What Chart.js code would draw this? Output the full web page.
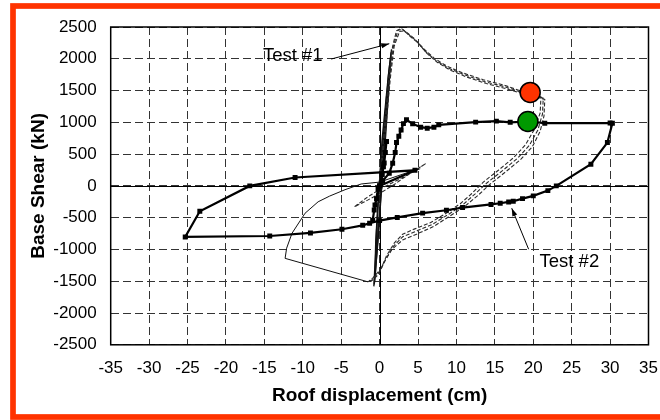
<!DOCTYPE html>
<html><head><meta charset="utf-8">
<script src="https://cdn.jsdelivr.net/npm/chart.js@4/dist/chart.umd.min.js"></script>
<style>html,body{margin:0;padding:0;background:#fff;}#wrap{width:660px;height:420px;position:relative;}</style>
</head><body><div id="wrap"><canvas id="c" width="660" height="420"></canvas></div>
<script>
// ---- axis ticks ----
const xTickValues = [-35,-30,-25,-20,-15,-10,-5,0,5,10,15,20,25,30,35];
const yTickValues = [-2500,-2000,-1500,-1000,-500,0,500,1000,1500,2000,2500];

// ---- Test #2 (thick line with square markers) ----
const test2X = [0,0.35,0.6,0.75,0.9,0.5,0,-0.4,-0.7,-0.9,-0.6,-0.2,0.4,1.26,1.7,2.03,2.2,2.5,2.8,3.1,3.5,4.3,5.35,6.2,7.07,7.7,12.5,15.2,17.0,19.3,21.5,30.0,30.3,29.65,27.5,23.0,21.9,20.0,18.6,17.4,16.8,15.7,14.5,10.8,8.7,5.6,2.3,0.0,-1.3,-2.2,-4.9,-9.0,-14.3,-25.3,-23.4,-16.9,-11.0,4.6,0];
const test2Y = [0,180,360,525,700,300,0,-200,-380,-540,-300,-50,80,200,357,525,682,780,880,980,1040,977,924,908,924,960,1003,1019,1000,1013,987,990,985,682,342,0,-74,-157,-200,-241,-252,-273,-292,-341,-383,-428,-496,-546,-588,-620,-682,-740,-788,-803,-399,0,132,245,0];

// ---- Test #1 elastic cycles (thin solid) ----
const test1ElasticX = [0,0.3,0.9,1.5,1.1,0.5,0.1,-0.3,-0.7,-0.4,0.0,0.4,0.9,1.4,1.0,0.4,0.0,-0.4,-0.6,-0.2,0.2,0.6,1.3,0.8,0.2,0];
const test1ElasticY = [0,700,1450,2100,1700,900,300,-500,-1550,-1100,-400,450,1300,2000,1500,700,100,-700,-1450,-800,-100,600,1900,1300,200,0];
const test1Elastic2X = [0,0.4,1.0,1.55,1.2,0.7,0.2,-0.2,-0.75,-0.5,-0.1,0.5,1.1,1.45,0.9,0.3,-0.1,-0.5,-0.65,-0.1,0.3,0.8,1.5,1.2,0.5,0];
const test1Elastic2Y = [0,600,1400,2150,1800,1100,350,-300,-1580,-1250,-600,300,1350,2050,1400,500,-50,-850,-1520,-700,50,800,2080,1700,600,0];

// ---- Test #1 large cycle, three passes (dashed) ----
const test1PassAX = [0,0.6,1.2,1.7,2.2,2.8,3.5,4.5,5.8,7.1,8.8,10.9,13.5,16.1,18.2,19.5,21.0,20.9,20.2,19.0,17.5,15.5,13.5,12.0,10.5,8.8,6.6,4.5,3.0,1.9,0.9,0.2,-0.9,-1.5];
const test1PassAY = [0,900,1700,2200,2440,2480,2420,2320,2150,2010,1880,1775,1670,1590,1500,1460,1400,1150,900,650,450,250,60,-120,-280,-420,-580,-680,-760,-900,-1100,-1300,-1450,-1510];
const test1PassBX = [0,0.7,1.3,1.8,2.4,3.0,3.8,4.8,6.0,7.3,9.0,11.1,13.7,16.3,18.4,19.8,21.3,21.2,20.6,19.5,18.0,16.0,14.0,12.4,10.8,9.0,6.8,4.6,3.0,1.8,0.8,0.0,-1.0,-1.5];
const test1PassBY = [0,900,1700,2200,2450,2460,2380,2280,2110,1975,1850,1745,1640,1560,1475,1435,1380,1130,880,640,440,240,50,-130,-300,-445,-610,-720,-800,-950,-1150,-1350,-1480,-1510];
const test1PassCX = [0,0.8,1.4,1.9,2.6,3.2,4.0,5.0,6.2,7.5,9.2,11.3,13.9,16.5,18.6,20.1,21.5,21.4,20.9,19.9,18.4,16.4,14.4,12.8,11.1,9.2,7.0,4.8,3.0,1.6,0.6,-0.2,-1.1,-1.5];
const test1PassCY = [0,900,1700,2200,2430,2440,2350,2250,2080,1945,1820,1715,1610,1530,1450,1410,1360,1100,860,620,420,220,30,-150,-320,-470,-640,-760,-850,-1000,-1200,-1400,-1500,-1510];

// ---- Test #1 negative excursion (thin solid) ----
const test1NegX = [-1.5,-12.3,-12.1,-11.4,-9.7,-8.0,-6.5,-4.5,-2.4,0,4.6];
const test1NegY = [-1510,-1140,-980,-745,-430,-250,-160,-60,30,60,250];

// ---- Test #1 final small loop (dashed) ----
const test1LoopX = [6.0,4.0,2.0,0,-1.5,-3.3,-1.5,0.5,2.5,4.5,6.0];
const test1LoopY = [350,200,30,-120,-220,-330,-170,-20,100,230,350];

// ---- highlighted points ----
const markerX = [19.6, 19.3];
const markerY = [1470, 1013];
const markerColors = ['#FF3300', '#009900'];

const pts = (xs, ys) => xs.map((x, i) => ({x: x, y: ys[i]}));

Chart.defaults.font.family = '"Liberation Sans", Arial, sans-serif';
Chart.defaults.color = '#000';

const bgFrame = {
  id: 'bgFrame',
  beforeDraw(chart) {
    const c = chart.ctx; c.save(); c.fillStyle = '#fff'; c.fillRect(0, 0, chart.width, chart.height); c.restore();
  },
  beforeDatasetsDraw(chart) {
    const c = chart.ctx, a = chart.chartArea, xs = chart.scales.x, ys = chart.scales.y;
    c.save();
    c.strokeStyle = '#000'; c.lineWidth = 1; c.setLineDash([]);
    const x0 = Math.round(xs.getPixelForValue(0)) + 0.5, y0 = Math.round(ys.getPixelForValue(0)) + 0.5;
    c.beginPath(); c.moveTo(x0, a.top); c.lineTo(x0, a.bottom); c.moveTo(a.left, y0); c.lineTo(a.right, y0); c.stroke();
    c.lineWidth = 1.5;
    c.strokeRect(a.left, a.top, a.right - a.left, a.bottom - a.top);
    c.restore();
  },
  afterDraw(chart) {
    const c = chart.ctx; c.save();
    c.strokeStyle = '#FF3300'; c.lineWidth = 5.7;
    c.strokeRect(13, 6, 680, 411);
    c.restore();
  }
};

const notes = {
  id: 'notes',
  afterDatasetsDraw(chart, args, opts) {
    const c = chart.ctx, xs = chart.scales.x, ys = chart.scales.y;
    c.save();
    opts.items.forEach(n => {
      c.font = '18.5px "Liberation Sans", Arial, sans-serif';
      c.fillStyle = '#000'; c.textAlign = 'center'; c.textBaseline = 'middle';
      c.fillText(n.text, xs.getPixelForValue(n.tx), ys.getPixelForValue(n.ty));
      const x0 = xs.getPixelForValue(n.ax0), y0 = ys.getPixelForValue(n.ay0);
      const x1 = xs.getPixelForValue(n.ax1), y1 = ys.getPixelForValue(n.ay1);
      c.strokeStyle = '#000'; c.lineWidth = 1; c.setLineDash([]);
      c.beginPath(); c.moveTo(x0, y0); c.lineTo(x1, y1); c.stroke();
      const ang = Math.atan2(y1 - y0, x1 - x0), L = 8, W = 2.6;
      c.beginPath();
      c.moveTo(x1, y1);
      c.lineTo(x1 - L * Math.cos(ang) + W * Math.sin(ang), y1 - L * Math.sin(ang) - W * Math.cos(ang));
      c.lineTo(x1 - L * Math.cos(ang) - W * Math.sin(ang), y1 - L * Math.sin(ang) + W * Math.cos(ang));
      c.closePath(); c.fill();
    });
    c.restore();
  }
};

const dashed = (data) => ({data, showLine: true, pointRadius: 0, borderColor: '#2a2a2a', borderWidth: 1.1, borderDash: [4, 2], tension: 0});
const thin = (data) => ({data, showLine: true, pointRadius: 0, borderColor: '#111', borderWidth: 1, tension: 0});

new Chart(document.getElementById('c'), {
  type: 'scatter',
  data: {
    datasets: [
      {label: 'points', data: pts(markerX, markerY), showLine: false, pointRadius: 10, pointBackgroundColor: markerColors, pointBorderColor: '#000', pointBorderWidth: 1.5},
      {label: 'Test #2', data: pts(test2X, test2Y), showLine: true, borderColor: '#000', borderWidth: 2.2, pointStyle: 'rect', pointRadius: 3.5, pointBackgroundColor: '#000', pointBorderColor: '#000', pointBorderWidth: 0, tension: 0},
      Object.assign(thin(pts(test1NegX, test1NegY)), {label: 'Test #1 neg'}),
      Object.assign(dashed(pts(test1LoopX, test1LoopY)), {label: 'Test #1 loop'}),
      Object.assign(dashed(pts(test1PassAX, test1PassAY)), {label: 'Test #1 A'}),
      Object.assign(dashed(pts(test1PassBX, test1PassBY)), {label: 'Test #1 B'}),
      Object.assign(dashed(pts(test1PassCX, test1PassCY)), {label: 'Test #1 C'}),
      Object.assign(thin(pts(test1ElasticX, test1ElasticY)), {label: 'Test #1 elastic', borderWidth: 1.3}),
      Object.assign(thin(pts(test1Elastic2X, test1Elastic2Y)), {label: 'Test #1 elastic 2', borderWidth: 1.3})
    ]
  },
  options: {
    responsive: false,
    animation: false,
    events: [],
    layout: {padding: {left: 0, right: 7, top: 27, bottom: 0}},
    plugins: {
      legend: {display: false}, tooltip: {enabled: false},
      notes: {items: [
        {text: 'Test #1', tx: -11.3, ty: 2048, ax0: -6.3, ay0: 1996, ax1: 1.26, ay1: 2237},
        {text: 'Test #2', tx: 24.7, ty: -1197, ax0: 19.4, ay0: -997, ax1: 17.2, ay1: -351}
      ]}
    },
    scales: {
      x: {
        type: 'linear', min: -35, max: 35,
        afterBuildTicks: s => { s.ticks = xTickValues.map(v => ({value: v})); },
        ticks: {callback: v => String(v), padding: 13.5, font: {size: 17}, color: '#000', maxRotation: 0, autoSkip: false},
        grid: {color: '#333', lineWidth: 1, drawTicks: false},
        border: {display: false, dash: [8, 4]},
        title: {display: true, text: 'Roof displacement (cm)', font: {size: 19, weight: 'bold'}, color: '#000', padding: {top: 0, bottom: 13}},
        afterFit: s => { s.height = 75.2; s.paddingLeft = 0; s.paddingRight = 0; }
      },
      y: {
        type: 'linear', min: -2500, max: 2500,
        afterBuildTicks: s => { s.ticks = yTickValues.map(v => ({value: v})); },
        ticks: {callback: v => String(v), padding: 14, font: {size: 17}, color: '#000', autoSkip: false},
        grid: {color: '#333', lineWidth: 1, drawTicks: false},
        border: {display: false, dash: [8, 4]},
        title: {display: true, text: 'Base Shear (kN)', font: {size: 19, weight: 'bold'}, color: '#000', padding: {top: 27, bottom: 0}},
        afterFit: s => { s.width = 110.7; s.paddingTop = 0; s.paddingBottom = 0; }
      }
    }
  },
  plugins: [bgFrame, notes]
});
</script></body></html>
